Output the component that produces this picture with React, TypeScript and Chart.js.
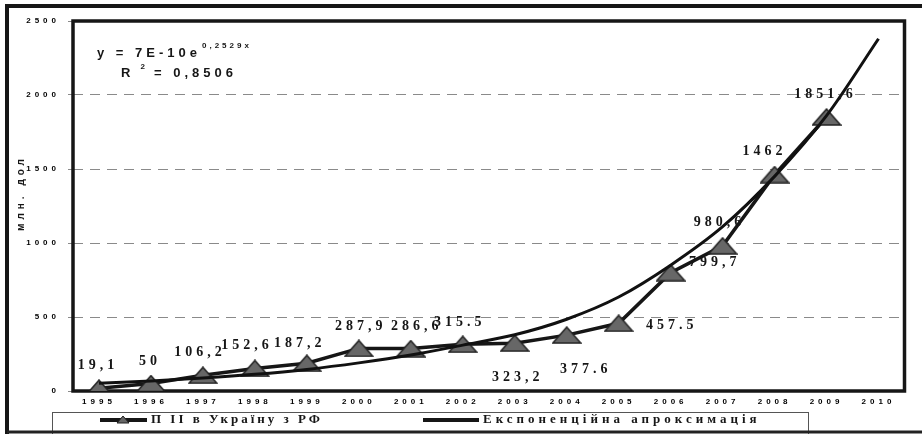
import React, { useEffect, useRef } from "react";
import { Chart, registerables } from "chart.js";

Chart.register(...registerables);

// Years on the horizontal axis
const years = [
  "1995", "1996", "1997", "1998", "1999", "2000", "2001", "2002",
  "2003", "2004", "2005", "2006", "2007", "2008", "2009", "2010",
];

// Direct investment into Ukraine from Russia, mln USD
const fdiValues = [
  19.1, 50, 106.2, 152.6, 187.2, 287.9, 286.6, 315.5,
  323.2, 377.6, 457.5, 799.7, 980.6, 1462, 1851.6,
];

// Value labels as printed next to each marker
const fdiLabels = [
  "19,1", "50", "106,2", "152,6", "187,2", "287,9", "286,6", "315.5",
  "323,2", "377.6", "457.5", "799,7", "980,6", "1462", "1851,6",
];

// Exponential approximation curve
const trendValues = [
  52, 68, 88, 113, 146, 190, 243, 310,
  380, 485, 635, 850, 1110, 1450, 1860, 2380,
];

// Value axis range
const yMin = 0;
const yMax = 2500;
const yStep = 500;

const seriesName = "П ІІ в Україну з РФ";
const trendName = "Експоненційна апроксимація";
const axisTitle = "млн. дол";

// Where each value label sits relative to its marker (px)
const labelOffsets: [number, number][] = [
  [-3, -23], [-3, -22], [-5, -23], [-10, -23], [-9, -20], [0, -22],
  [4, -22], [-5, -22], [1, 34], [17, 34], [51, 2], [42, -10],
  [-5, -23], [-12, -23], [-3, -23],
];

function makeTriangle(w: number, h: number): HTMLCanvasElement {
  const c = document.createElement("canvas");
  c.width = w;
  c.height = h;
  const g = c.getContext("2d")!;
  g.beginPath();
  g.moveTo(1, h - 1);
  g.lineTo(w / 2, 1);
  g.lineTo(w - 1, h - 1);
  g.closePath();
  g.fillStyle = "#676767";
  g.fill();
  g.lineWidth = 1.5;
  g.strokeStyle = "#222";
  g.stroke();
  return c;
}

function drawSpaced(
  ctx: CanvasRenderingContext2D,
  text: string,
  x: number,
  y: number,
  font: string,
  spacing: number,
  align: "left" | "center" | "right" = "left"
): number {
  ctx.save();
  ctx.font = font;
  (ctx as any).letterSpacing = spacing + "px";
  ctx.textBaseline = "middle";
  ctx.textAlign = "left";
  const w = ctx.measureText(text).width - spacing;
  let sx = x;
  if (align === "center") sx = x - w / 2;
  else if (align === "right") sx = x - w;
  ctx.fillStyle = "#161616";
  ctx.fillText(text, sx, y);
  ctx.restore();
  return sx + w;
}

const decorPlugin = {
  id: "decor",
  beforeDraw(chart: any) {
    const ctx = chart.ctx as CanvasRenderingContext2D;
    ctx.save();
    ctx.fillStyle = "#ffffff";
    ctx.fillRect(0, 0, chart.width, chart.height);
    ctx.restore();
    (ctx as any).letterSpacing = "4px";
  },
  beforeDatasetsDraw(chart: any) {
    const ctx = chart.ctx as CanvasRenderingContext2D;
    const a = chart.chartArea;
    ctx.save();
    ctx.lineWidth = 3.5;
    ctx.strokeStyle = "#161616";
    ctx.strokeRect(a.left, a.top, a.right - a.left, a.bottom - a.top);
    ctx.restore();
  },
  afterDatasetsDraw(chart: any) {
    const ctx = chart.ctx as CanvasRenderingContext2D;
    const meta = chart.getDatasetMeta(0);
    meta.data.forEach((pt: any, i: number) => {
      const off = labelOffsets[i];
      if (!off || fdiLabels[i] === undefined) return;
      drawSpaced(ctx, fdiLabels[i], pt.x + off[0], pt.y + off[1],
        "bold 14px 'Liberation Serif'", 4, "center");
    });
  },
  afterDraw(chart: any) {
    const ctx = chart.ctx as CanvasRenderingContext2D;
    (ctx as any).letterSpacing = "0px";

    // outer frame
    ctx.save();
    ctx.strokeStyle = "#161616";
    ctx.lineWidth = 4;
    ctx.beginPath();
    ctx.moveTo(7, chart.height);
    ctx.lineTo(7, 6);
    ctx.lineTo(chart.width, 6);
    ctx.stroke();
    ctx.restore();

    // equation of the approximation
    const eqEnd = drawSpaced(ctx, "y = 7E-10e", 97, 53, "bold 13px 'Liberation Sans'", 4);
    drawSpaced(ctx, "0,2529x", eqEnd + 5, 46, "bold 8px 'Liberation Sans'", 3);
    const rEnd = drawSpaced(ctx, "R", 121, 73, "bold 13px 'Liberation Sans'", 4);
    drawSpaced(ctx, "2", rEnd + 10, 67, "bold 8px 'Liberation Sans'", 3);
    drawSpaced(ctx, "= 0,8506", 154, 73, "bold 13px 'Liberation Sans'", 4);

    // value axis title
    ctx.save();
    ctx.translate(21, 195);
    ctx.rotate(-Math.PI / 2);
    drawSpaced(ctx, axisTitle, 0, 0, "bold 10px 'Liberation Sans'", 4, "center");
    ctx.restore();

    // legend
    ctx.save();
    ctx.strokeStyle = "#555";
    ctx.lineWidth = 1;
    ctx.strokeRect(52.5, 412.5, 756, 40);
    ctx.strokeStyle = "#161616";
    ctx.lineWidth = 4;
    ctx.beginPath();
    ctx.moveTo(100, 420);
    ctx.lineTo(147, 420);
    ctx.moveTo(423, 420);
    ctx.lineTo(479, 420);
    ctx.stroke();
    ctx.beginPath();
    ctx.moveTo(117, 423);
    ctx.lineTo(123, 416);
    ctx.lineTo(129, 423);
    ctx.closePath();
    ctx.fillStyle = "#676767";
    ctx.fill();
    ctx.lineWidth = 1;
    ctx.strokeStyle = "#222";
    ctx.stroke();
    ctx.restore();
    drawSpaced(ctx, seriesName, 151, 420, "bold 13px 'Liberation Serif'", 3);
    drawSpaced(ctx, trendName, 483, 420, "bold 13px 'Liberation Serif'", 4);

    // bottom edge of the outer frame
    ctx.save();
    ctx.strokeStyle = "#222";
    ctx.lineWidth = 3;
    ctx.beginPath();
    ctx.moveTo(7, 432);
    ctx.lineTo(chart.width, 432);
    ctx.stroke();
    ctx.restore();
  },
};

export default function App() {
  const canvasRef = useRef<HTMLCanvasElement | null>(null);

  useEffect(() => {
    if (!canvasRef.current) return;
    const triangle = makeTriangle(30, 18);
    const chart = new Chart(canvasRef.current, {
      type: "line",
      data: {
        labels: years,
        datasets: [
          {
            label: seriesName,
            data: fdiValues,
            borderColor: "#161616",
            borderWidth: 3.5,
            pointStyle: triangle as any,
            pointRadius: 14,
            order: 1,
          },
          {
            label: trendName,
            data: trendValues,
            borderColor: "#111111",
            borderWidth: 3,
            pointRadius: 0,
            cubicInterpolationMode: "monotone",
            order: 0,
          },
        ],
      },
      options: {
        responsive: false,
        animation: false,
        devicePixelRatio: 1,
        layout: { padding: { top: 21, right: 12, bottom: 0, left: 0 } },
        plugins: {
          legend: { display: false },
          tooltip: { enabled: false },
        },
        scales: {
          x: {
            type: "category",
            offset: true,
            grid: { display: false, drawTicks: false },
            border: { display: false },
            ticks: {
              color: "#000",
              font: { family: "'Liberation Sans'", size: 8, weight: "bold" },
              padding: 6,
              maxRotation: 0,
              autoSkip: false,
            },
            afterFit: (s: any) => {
              s.height = 43;
            },
          },
          y: {
            min: yMin,
            max: yMax,
            border: { display: false, dash: [10, 7] },
            grid: { color: "#8a8a8a", lineWidth: 1, tickLength: 5, tickBorderDash: [] },
            ticks: {
              stepSize: yStep,
              color: "#000",
              font: { family: "'Liberation Sans'", size: 8, weight: "bold" },
              padding: 8,
              callback: (v: any) => String(v),
            },
            afterFit: (s: any) => {
              s.width = 73;
            },
          },
        },
      },
      plugins: [decorPlugin],
    });
    return () => chart.destroy();
  }, []);

  return (
    <div style={{ position: "absolute", left: 0, top: 0, width: 922, height: 434, background: "#fff" }}>
      <canvas ref={canvasRef} width={922} height={434} />
    </div>
  );
}
